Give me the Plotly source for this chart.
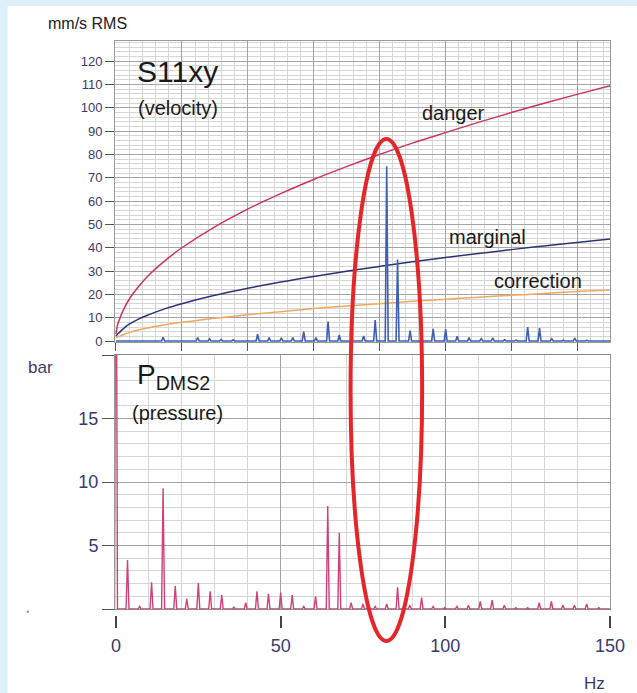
import plotly.graph_objects as go

# ---------------- data ----------------
# limit curves, top panel (mm/s RMS vs Hz)
curve_f = [0, 0.5, 1, 2, 4, 7, 10, 15, 20, 30, 40, 50, 60, 70, 80, 90, 100, 110, 120, 130, 140, 150]
danger = [3, 7, 9, 12.6, 17.9, 23.6, 28.3, 34.6, 40, 49, 56.6, 63.2, 69.3, 74.8, 80, 84.9, 89.4, 93.8, 98, 102, 105.8, 109.5]
marginal = [2, 3, 3.6, 5, 7.2, 9.5, 11.3, 13.9, 16, 19.6, 22.6, 25.3, 27.7, 29.9, 32, 34, 35.8, 37.5, 39.2, 40.8, 42.3, 43.8]
correction = [1.5, 1.8, 2, 2.6, 3.6, 4.8, 5.7, 7, 8, 9.8, 11.3, 12.6, 13.9, 15, 16, 17, 17.9, 18.8, 19.6, 20.4, 21.2, 21.9]

# velocity spectrum peaks (S11xy), Hz / mm/s
vel_f = [14.3, 24.8, 28.4, 31.9, 35.6, 43.0, 46.5, 50.2, 53.7, 57.0, 60.7, 64.4, 67.8, 71.5, 75.2,
         78.7, 82.2, 85.5, 89.3, 92.8, 96.3, 100.1, 103.6, 107.2, 110.9, 114.4, 118.0, 121.5, 125.0,
         128.6, 132.3, 135.9, 139.3, 143.0, 146.5]
vel_h = [1.6, 1.5, 0.9, 0.6, 0.5, 2.9, 1.5, 1.4, 1.5, 4.0, 1.5, 8.3, 2.6, 0.5, 2.2,
         9.0, 75, 35, 4.5, 0.8, 5.2, 5.0, 2.0, 1.5, 1.0, 1.4, 0.5, 0.4, 6.0,
         5.5, 1.0, 0.4, 1.2, 0.3, 0.3]

# pressure spectrum peaks (P_DMS2), Hz / bar
pr_f = [0.0, 3.5, 7.2, 10.8, 14.3, 18.0, 21.5, 25.0, 28.6, 32.1, 35.8, 39.4, 42.8, 46.3, 50.0, 53.5,
        57.0, 60.6, 64.3, 67.8, 71.4, 75.0, 78.7, 82.2, 85.5, 89.2, 92.8, 96.3, 99.8, 103.5, 107.0,
        110.6, 114.2, 117.9, 121.4, 125.0, 128.5, 132.2, 135.7, 139.2, 142.9, 146.6]
pr_h = [40, 3.85, 0.2, 2.1, 9.5, 1.8, 0.8, 2.05, 1.4, 1.1, 0.15, 0.5, 1.4, 1.2, 1.3, 1.1,
        0.2, 1.0, 8.1, 6.0, 0.5, 0.4, 0.2, 0.4, 1.7, 0.3, 0.9, 0.2, 0.1, 0.2, 0.3,
        0.6, 0.7, 0.3, 0.1, 0.1, 0.5, 0.6, 0.3, 0.3, 0.4, 0.1]

x_ticks_bottom = [0, 50, 100, 150]
y_ticks_bottom = [5, 10, 15]
y_ticks_bottom_bare = [0, 20]

# ---------------- helpers ----------------
PEAK_HW = 0.45  # half base width of a spectral line (style)


def spectrum(freqs, heights, f_end=150):
    xs, ys = [], []
    if freqs[0] > 0:
        xs.append(0)
        ys.append(0)
    for f, h in zip(freqs, heights):
        xs += [f - PEAK_HW, f, f + PEAK_HW]
        ys += [0, h, 0]
    xs.append(f_end)
    ys.append(0)
    return xs, ys


L, R_PX, T, B = 115, 613, 41, 615


def pxx(px):
    return (px - L) / (R_PX - L)


def pxy(py):
    return (B - py) / (B - T)


NAVY = "#3a3a6e"
FONT = "Liberation Sans, Arial, sans-serif"

fig = go.Figure()

fig.add_trace(go.Scatter(x=curve_f, y=danger, mode="lines", line=dict(color="#cc3366", width=1.5, shape="spline"),
                         xaxis="x", yaxis="y", hoverinfo="skip"))
fig.add_trace(go.Scatter(x=curve_f, y=marginal, mode="lines", line=dict(color="#2b3575", width=1.5, shape="spline"),
                         xaxis="x", yaxis="y", hoverinfo="skip"))
fig.add_trace(go.Scatter(x=curve_f, y=correction, mode="lines", line=dict(color="#f0a860", width=1.5, shape="spline"),
                         xaxis="x", yaxis="y", hoverinfo="skip"))

vx, vy = spectrum(vel_f, vel_h)
fig.add_trace(go.Scatter(x=vx, y=vy, mode="lines", line=dict(color="#3d5fb5", width=1.6),
                         xaxis="x", yaxis="y", hoverinfo="skip"))

px_, py_ = spectrum(pr_f, pr_h)
fig.add_trace(go.Scatter(x=px_, y=py_, mode="lines", line=dict(color="#d0407a", width=1.4),
                         xaxis="x2", yaxis="y2", hoverinfo="skip"))

# carriers for the detached tick axes
fig.add_trace(go.Scatter(x=[x_ticks_bottom[0], x_ticks_bottom[-1]], y=[None, None], mode="lines",
                         xaxis="x3", yaxis="y2", hoverinfo="skip", showlegend=False))
fig.add_trace(go.Scatter(x=[None, None], y=[0, 20], mode="lines",
                         xaxis="x2", yaxis="y3", hoverinfo="skip", showlegend=False))

GRID_MAJ = "#a4a4a4"
GRID_MIN = "#d6d6d6"
XR = [-0.3, 150]
Y2R = [0, 20]

fig.update_layout(
    width=637, height=693,
    margin=dict(l=L, r=637 - R_PX, t=T, b=693 - B, pad=0),
    paper_bgcolor="#e0f0fa",
    plot_bgcolor="white",
    showlegend=False,
    font=dict(family=FONT, color=NAVY),
    xaxis=dict(domain=[0, 1], anchor="y", range=XR, tickmode="linear", tick0=0, dtick=20,
               ticks="outside", ticklen=8, tickcolor="#555", showticklabels=False,
               showgrid=True, gridcolor=GRID_MAJ, gridwidth=1,
               minor=dict(dtick=4, tick0=0, showgrid=True, gridcolor=GRID_MIN, ticks=""),
               showline=True, linecolor="#999", mirror=True, zeroline=False),
    yaxis=dict(domain=[pxy(342), 1], anchor="x", range=[-0.43, 128.7], tickmode="linear", tick0=0, dtick=10,
               ticks="outside", ticklen=9, tickcolor="#555", tickfont=dict(size=13, color=NAVY),
               showgrid=True, gridcolor=GRID_MAJ,
               minor=dict(dtick=2, tick0=0, showgrid=True, gridcolor=GRID_MIN, ticks=""),
               showline=True, linecolor="#999", mirror=True, zeroline=False),
    xaxis2=dict(domain=[0, 1], anchor="y2", range=XR, tickmode="linear", tick0=0, dtick=50,
                ticks="", showticklabels=False, showgrid=True, gridcolor=GRID_MAJ,
                minor=dict(dtick=10, tick0=0, showgrid=True, gridcolor=GRID_MIN, ticks=""),
                showline=True, linecolor="#888", mirror=True, zeroline=False),
    yaxis2=dict(domain=[pxy(609), pxy(355)], anchor="x2", range=Y2R, tickmode="array",
                tickvals=y_ticks_bottom,
                ticks="outside", ticklen=12, tickcolor="#555", tickfont=dict(size=18, color=NAVY),
                showgrid=True, gridcolor=GRID_MAJ,
                minor=dict(dtick=1, tick0=0, showgrid=True, gridcolor=GRID_MIN, ticks=""),
                showline=True, linecolor="#999", mirror=True, zeroline=False),
    yaxis3=dict(overlaying="y2", anchor="x2", range=Y2R, tickmode="array", tickvals=y_ticks_bottom_bare,
                ticks="outside", ticklen=12, tickcolor="#555", showticklabels=False,
                showgrid=False, showline=False, zeroline=False),
    xaxis3=dict(overlaying="x2", anchor="free", position=0, range=XR, tickmode="array",
                tickvals=x_ticks_bottom, ticks="outside", ticklen=12, tickwidth=1.5, tickcolor="#444",
                tickfont=dict(size=18, color=NAVY), ticklabelstandoff=2,
                showgrid=False, showline=False, zeroline=False),
)

# white page panel
fig.add_shape(type="rect", xref="paper", yref="paper", x0=pxx(7), x1=pxx(640), y0=pxy(696), y1=pxy(6),
              fillcolor="white", line=dict(width=0), layer="below")

# small grey speck at lower left
fig.add_shape(type="circle", xref="paper", yref="paper", x0=pxx(26), x1=pxx(28.5), y0=pxy(613), y1=pxy(610.5),
              fillcolor="#999999", line=dict(width=0))

# red highlight ellipse
fig.add_shape(type="circle", xref="paper", yref="paper", x0=pxx(352), x1=pxx(424), y0=pxy(641), y1=pxy(139),
              line=dict(color="#e4262a", width=4), fillcolor="rgba(0,0,0,0)", layer="above")


def label(text, x, y, size, color="#1a1a1a", xanchor="left"):
    fig.add_annotation(text=text, xref="paper", yref="paper", x=pxx(x), y=pxy(y), xanchor=xanchor,
                       yanchor="middle", showarrow=False, font=dict(size=size, color=color, family=FONT))


label("mm/s RMS", 46, 24, 16, "#222222")
label("S11xy", 135, 71, 30)
label("(velocity)", 136, 108, 20)
label("danger", 422, 113, 20)
label("marginal", 449, 237, 20)
label("correction", 494, 281, 20)
label("P<sub>DMS2</sub>", 135, 376, 28)
label("(pressure)", 130, 413, 20)
label("bar", 25, 367, 17, NAVY)
label("Hz", 585, 683, 17, NAVY)

fig.write_html("out.html", config={"displayModeBar": False},
               post_script="document.body.style.margin='0';document.body.style.overflow='hidden';")
